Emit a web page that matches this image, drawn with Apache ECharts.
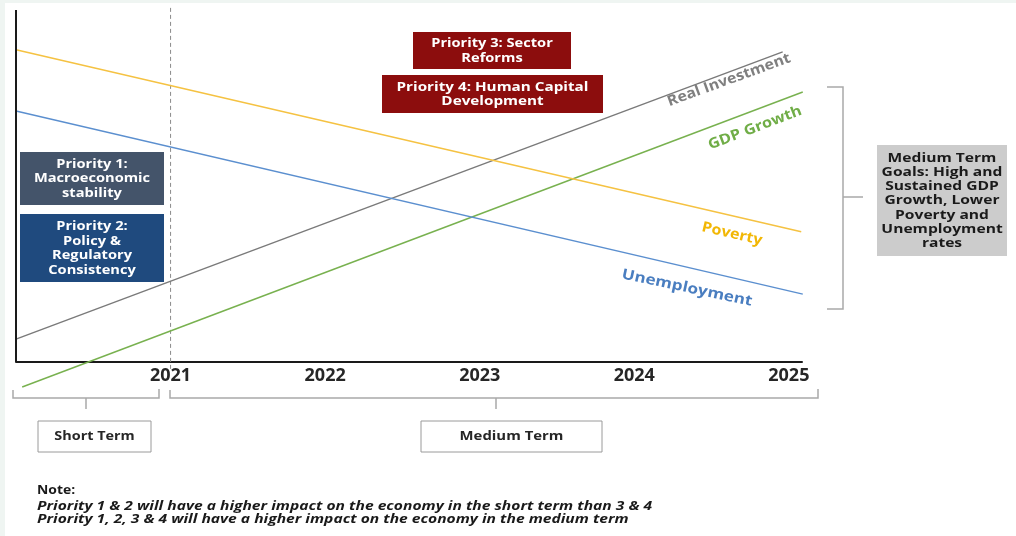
<!DOCTYPE html>
<html>
<head>
<meta charset="utf-8">
<script src="https://cdn.jsdelivr.net/npm/echarts@6/dist/echarts.min.js"></script>
<style>
  html, body { margin: 0; padding: 0; background: #eff5f2; }
  #chart { width: 1016px; height: 536px; }
</style>
</head>
<body>
<div id="chart"></div>
<script>
// Indicator paths: each drawn as a straight trend from a start point to an end point
const seriesNames = ['Real Investment', 'GDP Growth', 'Poverty', 'Unemployment'];
const seriesColors = ['#7a7a7a', '#78b14f', '#f5c242', '#5b8fcf'];
const startYears = [2020, 2020.04, 2020, 2020];
const startValues = [6.5, -7.1, 88.7, 71.3];
const endYears = [2024.96, 2025.09, 2025.08, 2025.09];
const endValues = [88.1, 76.7, 37.0, 19.3];

// Horizontal axis years and the short/medium term boundary
const yearTicks = [2021, 2022, 2023, 2024, 2025];
const boundaryYear = 2021;

const FONT = '"Open Sans", "Liberation Sans", sans-serif';

const lineSeries = seriesNames.map((name, i) => ({
  name: name,
  type: 'line',
  silent: true,
  symbol: 'none',
  clip: false,
  z: 3,
  lineStyle: { color: seriesColors[i], width: 1.4 },
  data: [[startYears[i], startValues[i]], [endYears[i], endValues[i]]]
}));

// Vertical axis line and the dashed boundary marker
const frameSeries = [
  {
    type: 'line', silent: true, symbol: 'none', clip: false, z: 4,
    lineStyle: { color: '#1a1a1a', width: 2 },
    data: [[2020, 0], [2020, 100]]
  },
  {
    type: 'line', silent: true, symbol: 'none', clip: false, z: 2,
    lineStyle: { color: '#8a8a8a', width: 1, type: [4, 3] },
    data: [[boundaryYear, 100.6], [boundaryYear, -2.3]]
  }
];

// Stretched bold text centred on (x, y)
function label(text, x, y, opts) {
  return {
    type: 'text', z: 11, x: x, y: y,
    rotation: (opts.rotate || 0) * Math.PI / 180,
    scaleX: opts.scaleX || 1,
    style: {
      text: text, x: 0, y: 0,
      textAlign: opts.align || 'center', textVerticalAlign: 'middle',
      font: (opts.style || '') + ' ' + (opts.weight || 'bold') + ' ' + opts.size + 'px ' + FONT,
      lineHeight: opts.lh || opts.size + 2, fill: opts.color
    }
  };
}

function box(x, y, w, h, fill, text, opts, stroke) {
  return [
    {
      type: 'rect', z: 10,
      shape: { x: x, y: y, width: w, height: h },
      style: { fill: fill, stroke: stroke || null, lineWidth: stroke ? 1 : 0 }
    },
    label(text, x + w / 2, y + h / 2 + 0.5, opts)
  ];
}

function bracket(points) {
  return {
    type: 'polyline', z: 10,
    shape: { points: points },
    style: { stroke: '#a9a9a9', lineWidth: 1.5, fill: null }
  };
}

const boxText = { size: 12, weight: 'bold', lh: 14.5, color: '#ffffff', scaleX: 1.22 };

const graphics = [
  { type: 'rect', z: -10, shape: { x: 5, y: 3, width: 1011, height: 533 }, style: { fill: '#ffffff' } },

  ...box(20, 152, 144, 53, '#44546a', 'Priority 1:\nMacroeconomic\nstability', boxText),
  ...box(20, 214, 144, 68, '#1f4a7e', 'Priority 2:\nPolicy &\nRegulatory\nConsistency', boxText),
  ...box(413, 32, 158, 37, '#8c0d0d', 'Priority 3: Sector\nReforms', boxText),
  ...box(382, 75, 221, 38, '#8c0d0d', 'Priority 4: Human Capital\nDevelopment', Object.assign({}, boxText, { scaleX: 1.27 })),
  ...box(877, 145, 130, 111, '#cccccc',
    'Medium Term\nGoals: High and\nSustained GDP\nGrowth, Lower\nPoverty and\nUnemployment\nrates',
    { size: 12, weight: 'bold', lh: 14.3, color: '#1a1a1a', scaleX: 1.3 }),

  label('Real Investment', 729, 80, { size: 14.5, rotate: 20, scaleX: 1.1, color: '#7f7f7f' }),
  label('GDP Growth', 755, 128, { size: 14.5, rotate: 21, scaleX: 1.12, color: '#70ad47' }),
  label('Poverty', 732, 234, { size: 14.5, rotate: -13, scaleX: 1.1, color: '#f2b705' }),
  label('Unemployment', 687, 288, { size: 14.5, rotate: -12, scaleX: 1.18, color: '#4a7ec0' }),

  // Right-hand brace grouping the trend outcomes
  bracket([[827, 87], [843, 87], [843, 309], [827, 309]]),
  bracket([[843, 197], [863, 197]]),

  // Time-horizon braces under the axis
  bracket([[13, 390], [13, 398], [159, 398], [159, 389]]),
  bracket([[86, 398], [86, 409]]),
  bracket([[170, 390], [170, 398], [818, 398], [818, 389]]),
  bracket([[496, 398], [496, 409]]),

  ...box(38, 421, 113, 31, '#ffffff', 'Short Term', { size: 12, color: '#262626', scaleX: 1.2 }, '#9a9a9a'),
  ...box(421, 421, 181, 31, '#ffffff', 'Medium Term', { size: 12, color: '#262626', scaleX: 1.24 }, '#9a9a9a'),

  label('Note:', 37, 491, { size: 12, align: 'left', scaleX: 1.16, color: '#1a1a1a' }),
  label('Priority 1 & 2 will have a higher impact on the economy in the short term than 3 & 4\nPriority 1, 2, 3 & 4 will have a higher impact on the economy in the medium term',
    37, 513.5, { size: 12, style: 'italic', align: 'left', lh: 13, scaleX: 1.3, color: '#1a1a1a' })
];

const chart = echarts.init(document.getElementById('chart'), null, { renderer: 'canvas' });
chart.setOption({
  backgroundColor: '#eff5f2',
  animation: false,
  grid: { left: 16, right: 214, top: 10, bottom: 174, containLabel: false },
  xAxis: {
    type: 'value',
    min: 2020, max: 2025.085, interval: 1,
    axisLine: { show: true, onZero: false, lineStyle: { color: '#1a1a1a', width: 2 } },
    axisTick: { show: false },
    splitLine: { show: false },
    axisLabel: {
      margin: 5,
      color: '#262626', fontFamily: FONT, fontWeight: 'bold', fontSize: 18,
      formatter: v => (yearTicks.indexOf(Math.round(v)) >= 0 && Math.abs(v - Math.round(v)) < 1e-6) ? String(Math.round(v)) : ''
    }
  },
  yAxis: {
    type: 'value', min: 0, max: 100, show: false,
    splitLine: { show: false }
  },
  series: [...frameSeries, ...lineSeries],
  graphic: graphics
});
</script>
</body>
</html>
